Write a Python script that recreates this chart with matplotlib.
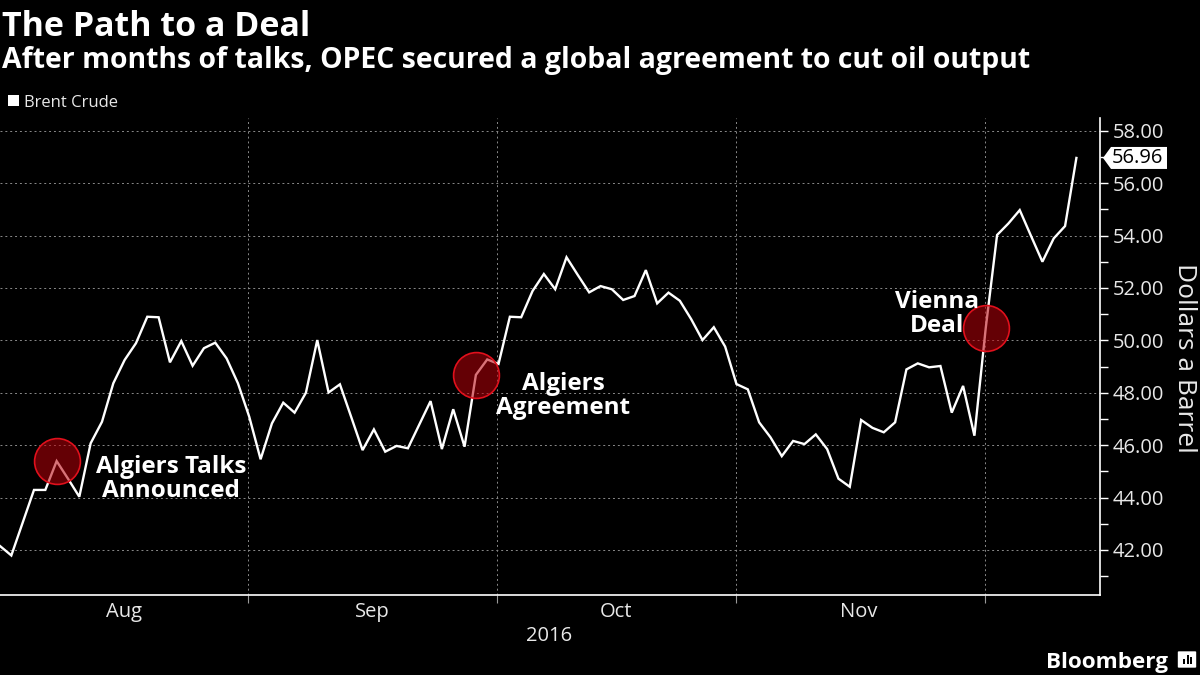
import matplotlib
matplotlib.use("Agg")
import matplotlib.pyplot as plt
import matplotlib.transforms as mtransforms
from matplotlib.patches import Rectangle, FancyBboxPatch, Polygon
import numpy as np

# ---- data (Brent crude, one value per trading day, Aug 1 - Dec 12 2016) ----
brent = [42.15, 41.79, 43.04, 44.29, 44.29, 45.39, 44.72, 44.03, 46.07, 46.89,
         48.36, 49.25, 49.89, 50.90, 50.88, 49.16, 49.97, 49.03, 49.70, 49.91,
         49.31, 48.36, 47.08, 45.46, 46.83, 47.62, 47.24, 48.00, 50.01, 48.01,
         48.32, 47.07, 45.81, 46.60, 45.75, 45.97, 45.88, 46.78, 47.68, 45.85,
         47.37, 45.94, 48.68, 49.27, 49.10, 50.90, 50.88, 51.88, 52.53, 51.95,
         53.17, 52.49, 51.83, 52.07, 51.95, 51.54, 51.69, 52.68, 51.41, 51.82,
         51.51, 50.81, 50.01, 50.50, 49.76, 48.33, 48.13, 46.87, 46.30, 45.58,
         46.16, 46.04, 46.41, 45.85, 44.72, 44.41, 46.96, 46.66, 46.49, 46.87,
         48.89, 49.12, 48.97, 49.02, 47.24, 48.26, 46.36, 50.47, 54.02, 54.46,
         54.97, 53.98, 53.00, 53.89, 54.36, 56.96]
month_labels = ["Aug", "Sep", "Oct", "Nov"]
month_label_pos = [10.9, 32.9, 54.4, 75.8]      # trading-day index of label centres
month_bounds = [21.9, 43.9, 65.0, 86.9]         # trading-day index of month boundaries
year_label = "2016"
events = ["Algiers Talks\nAnnounced", "Algiers\nAgreement", "Vienna\nDeal"]
event_idx = [5, 42, 87]
last_value = 56.96

x = np.arange(len(brent))

BG = "black"
FG = "white"
LT = "#e8e8e8"
GRID = "#8a8a8a"

fig = plt.figure(figsize=(12, 6.75), dpi=100, facecolor=BG)
ax = fig.add_axes([0.0, 0.1185, 0.9167, 0.7065], facecolor=BG)

ax.set_xlim(0, 1100 / 11.33)
ax.set_ylim(40.28, 58.48)

# grid
for v in range(42, 59, 2):
    ax.axhline(v, color=GRID, lw=0.7, ls=(0, (2, 3)), zorder=1)
for b in month_bounds:
    ax.axvline(b, color=GRID, lw=0.7, ls=(0, (2, 3)), zorder=1)

ax.plot(x, brent, color=FG, lw=1.7, zorder=3, solid_joinstyle="miter")

# event markers
for i in event_idx:
    ax.plot([x[i]], [brent[i]], marker="o", ms=33, mfc=(0.72, 0.0, 0.04, 0.55),
            mec="#e0101c", mew=1.2, zorder=4, ls="none")

ann_kw = dict(color=FG, fontsize=17.5, fontweight="bold", family="Open Sans",
              ha="center", va="center", linespacing=1.0, zorder=5)
ax.text(15.1, 44.72, events[0], **ann_kw)
ax.text(49.7, 47.87, events[1], **ann_kw)
ax.text(82.7, 51.0, events[2], **ann_kw)

# spines
for s in ["left", "top"]:
    ax.spines[s].set_visible(False)
for s in ["right", "bottom"]:
    ax.spines[s].set_color(FG)
    ax.spines[s].set_linewidth(1.2)

# y axis on right
ax.yaxis.tick_right()
ax.set_yticks(range(42, 59, 2))
ax.set_yticklabels([f"{v:.2f}" for v in range(42, 59, 2)])
ax.set_yticks(range(41, 58, 2), minor=True)
ax.tick_params(axis="y", which="both", colors=FG, length=6, width=1, direction="out",
               labelsize=14.5, pad=3, labelcolor=LT)
for t in ax.get_yticklabels():
    t.set_family("Open Sans")

# x axis
ax.set_xticks(month_bounds, minor=True)
ax.set_xticks(month_label_pos)
ax.set_xticklabels(month_labels)
ax.tick_params(axis="x", which="minor", colors="#9a9a9a", length=6, width=0.8)
ax.tick_params(axis="x", which="major", length=0, pad=5, labelsize=14.5,
               labelcolor=LT)
for t in ax.get_xticklabels():
    t.set_family("Open Sans")
ax.text(48.5, -0.085, year_label,
        transform=mtransforms.blended_transform_factory(ax.transData, ax.transAxes),
        ha="center", va="center", color=LT, fontsize=14.5, family="Open Sans")

# last value tag (pointed white label)
y_disp = ax.transData.transform((0, last_value))[1]
tag = Polygon([(1103, y_disp), (1111, y_disp + 11), (1167, y_disp + 11),
               (1167, y_disp - 11), (1111, y_disp - 11)], closed=True,
              transform=None, fc="white", ec="none", zorder=6)
fig.patches.append(tag)
fig.text(1111.5 / 1200, y_disp / 675, f"{last_value:.2f}", ha="left", va="center",
         color="black", fontsize=14.5, family="Open Sans", zorder=7)

# y label
fig.text(1185 / 1200, 1 - 358 / 675, "Dollars a Barrel", rotation=270, ha="center",
         va="center", color=LT, fontsize=19, family="Open Sans")

# titles
fig.text(2 / 1200, 1 - 36 / 675, "The Path to a Deal", color=FG, fontsize=24.5,
         fontweight="bold", family="Open Sans", ha="left", va="baseline")
fig.text(2 / 1200, 1 - 68 / 675,
         "After months of talks, OPEC secured a global agreement to cut oil output",
         color=FG, fontsize=20.4, fontweight="bold", family="Open Sans", ha="left",
         va="baseline")

# legend
fig.patches.append(Rectangle((8 / 1200, 1 - 106 / 675), 11 / 1200, 11 / 675,
                             transform=fig.transFigure, fc=FG, ec="none"))
fig.text(24 / 1200, 1 - 107 / 675, "Brent Crude", color=LT, fontsize=12,
         family="Open Sans", ha="left", va="baseline")

# Bloomberg mark
fig.text(1168 / 1200, 1 - 668 / 675, "Bloomberg", color=FG, fontsize=16.2,
         fontweight="bold", family="Open Sans", ha="right", va="baseline")
fig.patches.append(FancyBboxPatch((1179 / 1200, 1 - 667 / 675), 16 / 1200, 15 / 675,
                                  boxstyle="round,pad=0.001", transform=fig.transFigure,
                                  fc=FG, ec="none"))
for bx, bh in [(1183, 5), (1186.5, 9), (1190, 7)]:
    fig.patches.append(Rectangle((bx / 1200, 1 - 664 / 675), 2 / 1200, bh / 675,
                                 transform=fig.transFigure, fc="black", ec="none"))

fig.savefig("out.png", dpi=100, facecolor=BG)
